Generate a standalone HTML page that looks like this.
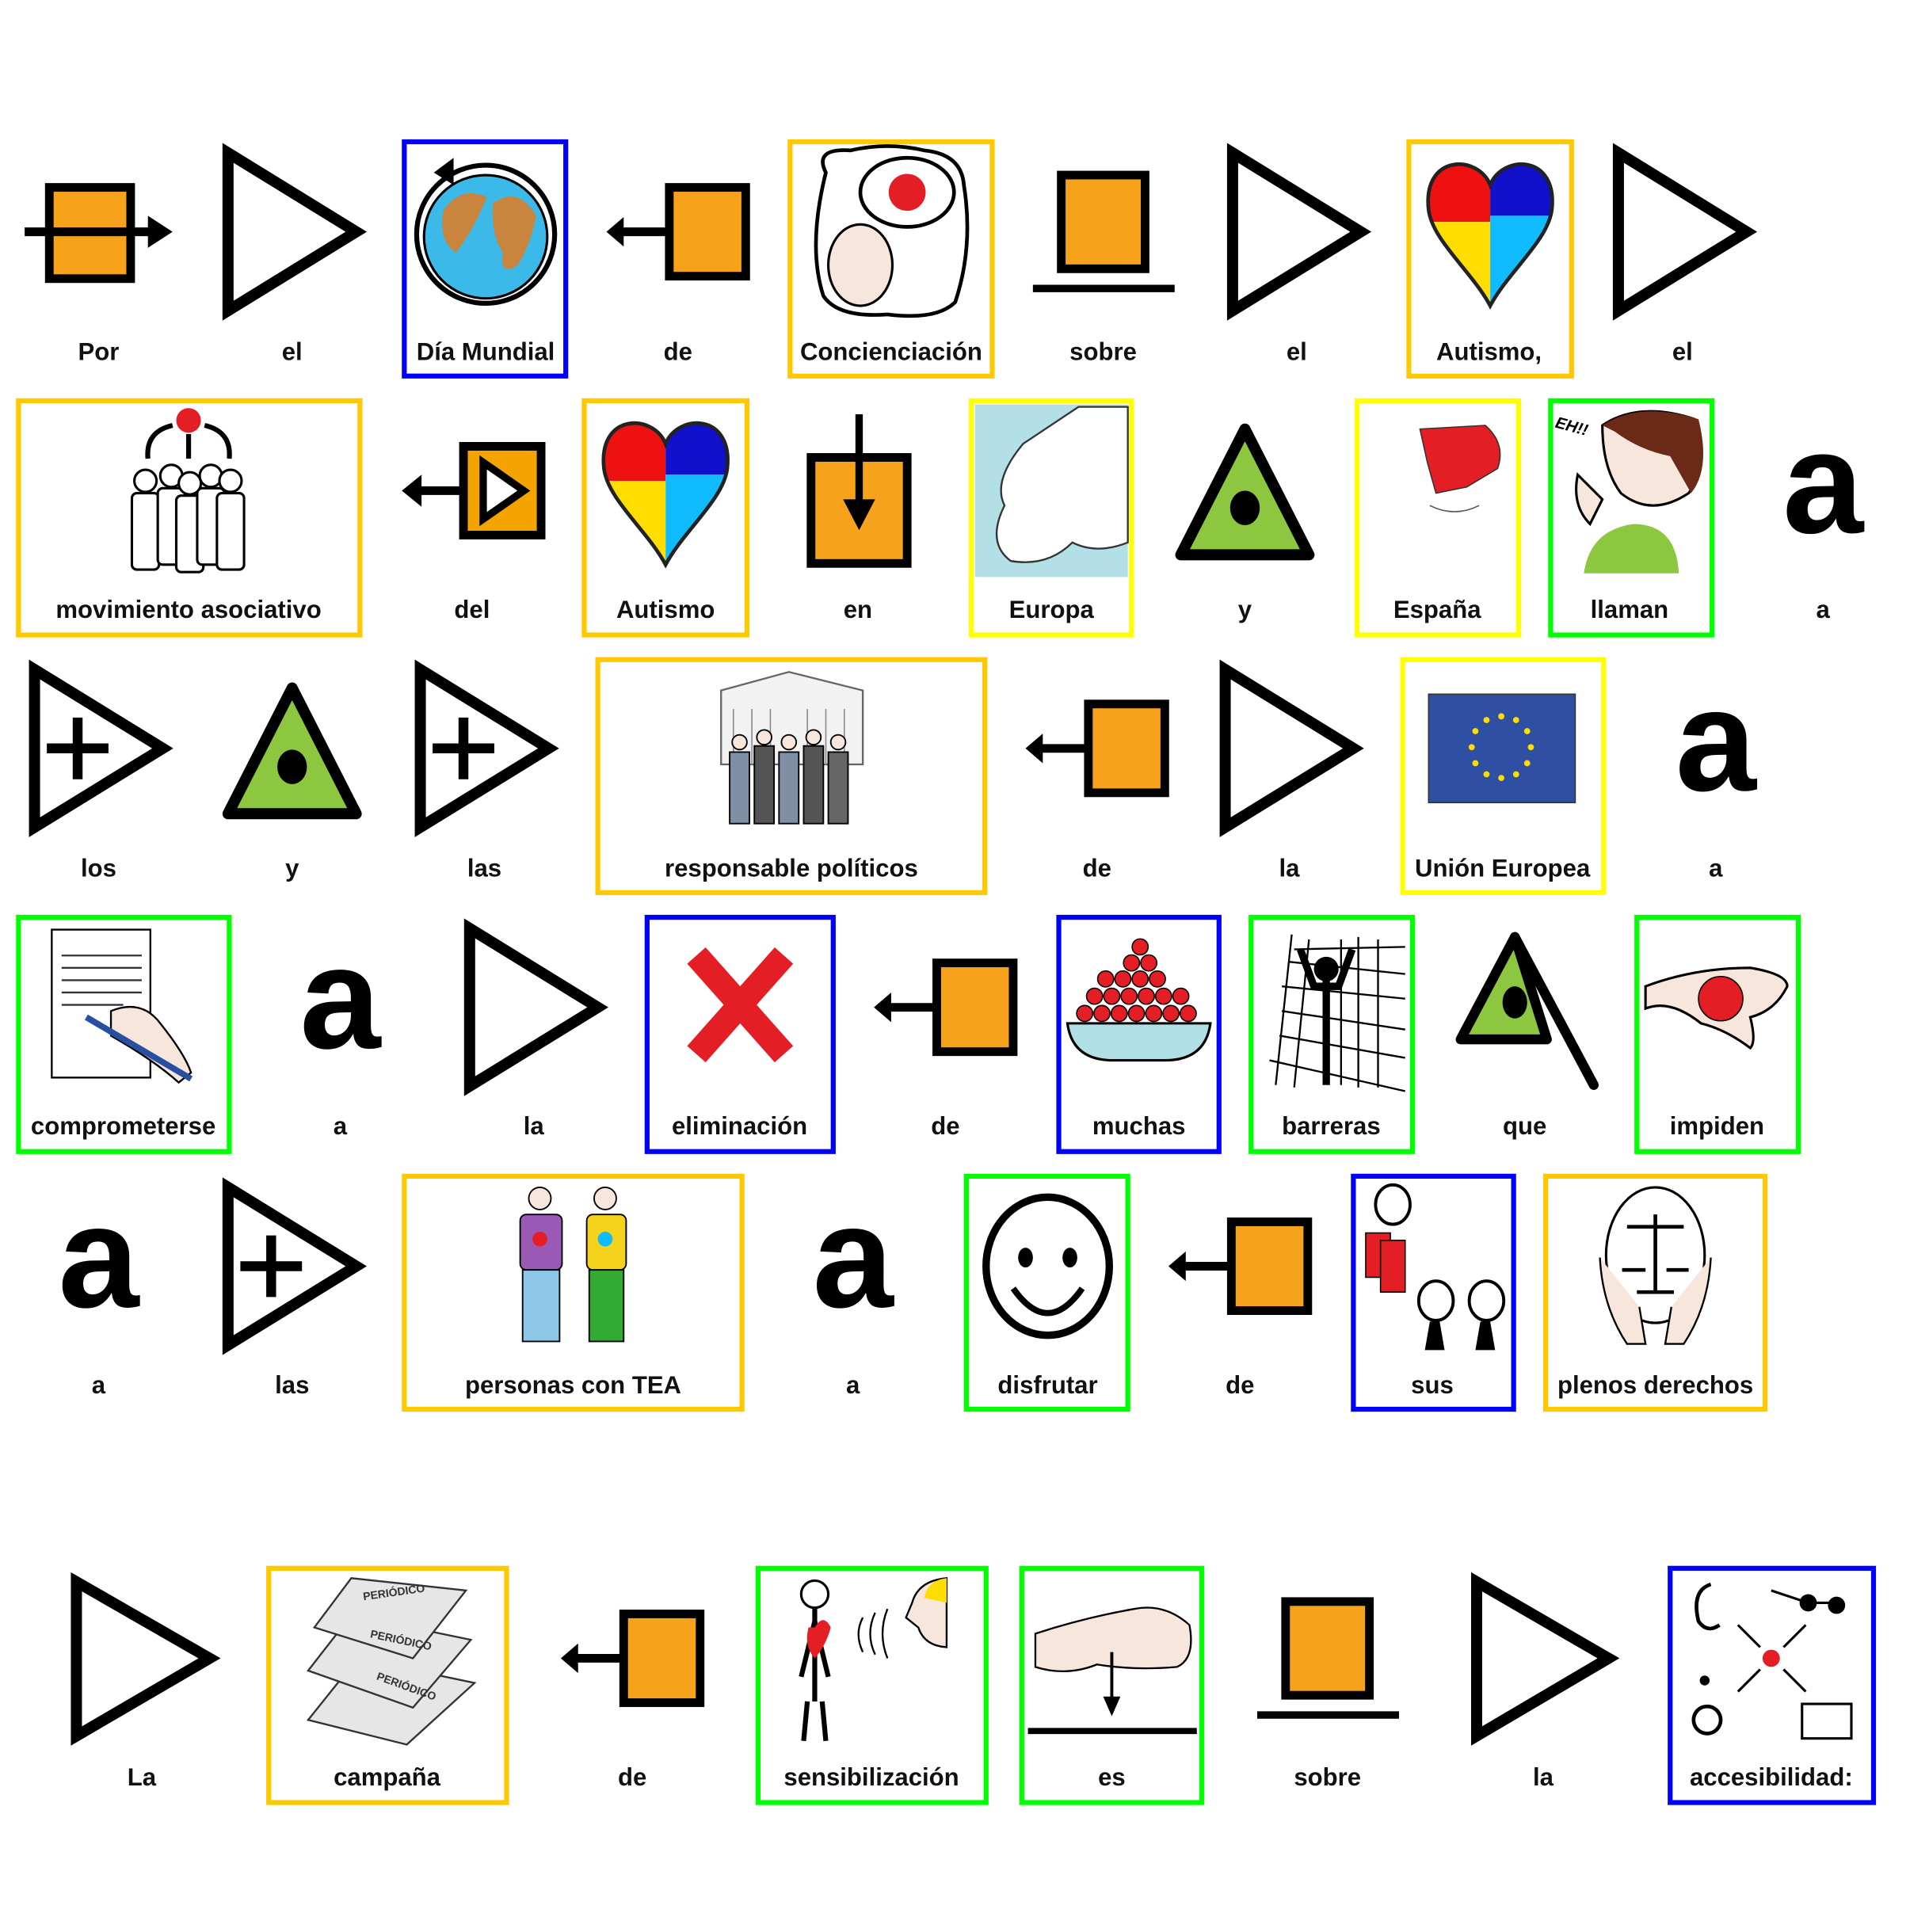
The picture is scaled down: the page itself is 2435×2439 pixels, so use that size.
<!DOCTYPE html>
<html><head><meta charset="utf-8"><style>
html,body{margin:0;padding:0;background:#fff;}
svg{display:block;}
text{font-family:"Liberation Sans","DejaVu Sans",sans-serif;font-weight:bold;}
.l{font-size:20px;text-anchor:middle;fill:#111;}
.a{font-size:118px;text-anchor:middle;fill:#000;}
</style></head><body>
<svg width="2435" height="2439" viewBox="0 0 1565 1567" preserveAspectRatio="none" xmlns="http://www.w3.org/2000/svg">
<defs>
<g id="tri"><polygon points="-52,-64 52,0 -52,64" fill="#fff" stroke="#000" stroke-width="9" stroke-linejoin="miter"/></g>
<g id="trip"><polygon points="-52,-64 52,0 -52,64" fill="#fff" stroke="#000" stroke-width="9"/><path d="M-42,0 H8 M-17,-25 V25" stroke="#000" stroke-width="8"/></g>
<g id="de"><rect x="-7" y="-36" width="62" height="72" fill="#f7a21b" stroke="#000" stroke-width="7"/><path d="M-48,0 H-8" stroke="#000" stroke-width="7"/><polygon points="-58,0 -44,-12 -44,12" fill="#000"/></g>
<g id="sobre"><rect x="-34" y="-46" width="68" height="76" fill="#f7a21b" stroke="#000" stroke-width="7"/><path d="M-57,46 H58" stroke="#000" stroke-width="6"/></g>
<g id="y"><polygon points="0,-52 -52,50 52,50" fill="#8dc63f" stroke="#000" stroke-width="9" stroke-linejoin="round"/><ellipse cx="0" cy="12" rx="12" ry="14" fill="#000"/></g>
<g id="heart"><clipPath id="hc"><path d="M0,-30 C10,-55 55,-55 50,-10 C47,15 15,40 0,68 C-15,40 -47,15 -50,-10 C-55,-55 -10,-55 0,-30Z"/></clipPath>
<g clip-path="url(#hc)"><rect x="-60" y="-60" width="60" height="60" fill="#e11"/><rect x="0" y="-60" width="60" height="55" fill="#11c"/><rect x="-60" y="0" width="60" height="70" fill="#fd0"/><rect x="0" y="-5" width="60" height="75" fill="#1bf"/></g>
<path d="M0,-30 C10,-55 55,-55 50,-10 C47,15 15,40 0,68 C-15,40 -47,15 -50,-10 C-55,-55 -10,-55 0,-30Z" fill="none" stroke="#222" stroke-width="3"/></g>
</defs>
<rect width="1565" height="1567" fill="#fff"/>
<g fill="none" stroke-width="4">
<rect x="328" y="115" width="131" height="190" stroke="#0000ff"/>
<rect x="641" y="115" width="164" height="190" stroke="#ffc800"/>
<rect x="1143" y="115" width="132" height="190" stroke="#ffc800"/>
<rect x="15" y="325" width="277" height="190" stroke="#ffc800"/>
<rect x="474" y="325" width="132" height="190" stroke="#ffc800"/>
<rect x="788" y="325" width="130" height="190" stroke="#ffff00"/>
<rect x="1101" y="325" width="131" height="190" stroke="#ffff00"/>
<rect x="1258" y="325" width="131" height="190" stroke="#00ff00"/>
<rect x="485" y="535" width="314" height="189" stroke="#ffc800"/>
<rect x="1138" y="535" width="163" height="189" stroke="#ffff00"/>
<rect x="15" y="744" width="171" height="190" stroke="#00ff00"/>
<rect x="525" y="744" width="151" height="190" stroke="#0000ff"/>
<rect x="859" y="744" width="130" height="190" stroke="#0000ff"/>
<rect x="1015" y="744" width="131" height="190" stroke="#00ff00"/>
<rect x="1328" y="744" width="131" height="190" stroke="#00ff00"/>
<rect x="328" y="954" width="274" height="189" stroke="#ffc800"/>
<rect x="784" y="954" width="131" height="189" stroke="#00ff00"/>
<rect x="1098" y="954" width="130" height="189" stroke="#0000ff"/>
<rect x="1254" y="954" width="178" height="189" stroke="#ffc800"/>
<rect x="218" y="1272" width="193" height="190" stroke="#ffc800"/>
<rect x="615" y="1272" width="185" height="190" stroke="#00ff00"/>
<rect x="829" y="1272" width="146" height="190" stroke="#00ff00"/>
<rect x="1355" y="1272" width="165" height="190" stroke="#0000ff"/>
</g>

<!-- Row 1 -->
<rect x="40" y="152" width="66" height="74" fill="#f7a21b" stroke="#000" stroke-width="7"/>
<path d="M20,188 H122" stroke="#000" stroke-width="7"/><polygon points="140,188 120,175 120,201" fill="#000"/>
<use href="#tri" x="237" y="188"/>
<circle cx="394" cy="190" r="56" fill="none" stroke="#000" stroke-width="4"/>
<circle cx="394" cy="192" r="50" fill="#3bb9e8" stroke="#000" stroke-width="2"/>
<path d="M360,170 Q375,150 395,160 Q385,185 370,205 Q355,195 360,170Z M400,165 Q420,150 435,175 Q430,200 420,215 Q405,225 408,205 Q398,190 400,165Z" fill="#c9843e"/>
<polygon points="352,140 368,128 368,150" fill="#000"/>
<use href="#de" x="550" y="188"/>
<path d="M670,140 Q660,120 690,122 Q720,115 750,122 Q780,125 782,150 Q790,200 775,245 Q760,260 720,255 Q680,258 668,240 Q655,200 670,140Z" fill="#fff" stroke="#000" stroke-width="3"/>
<ellipse cx="736" cy="156" rx="38" ry="28" fill="#fff" stroke="#000" stroke-width="3"/><circle cx="736" cy="156" r="15" fill="#e31e24"/>
<ellipse cx="698" cy="215" rx="26" ry="33" fill="#f7e6dc" stroke="#000" stroke-width="2"/>
<use href="#sobre" x="895" y="188"/>
<use href="#tri" x="1052" y="188"/>
<use href="#heart" x="1209" y="180"/>
<use href="#tri" x="1365" y="188"/>
<text class="l" x="80" y="292">Por</text><text class="l" x="237" y="292">el</text><text class="l" x="394" y="292">Día Mundial</text><text class="l" x="550" y="292">de</text><text class="l" x="723" y="292">Concienciación</text><text class="l" x="895" y="292">sobre</text><text class="l" x="1052" y="292">el</text><text class="l" x="1208" y="292">Autismo,</text><text class="l" x="1365" y="292">el</text>

<!-- Row 2 -->
<circle cx="153" cy="341" r="10" fill="#e31e24"/>
<path d="M140,345 Q118,350 120,372 M166,345 Q188,350 186,372 M153,352 V372" stroke="#000" stroke-width="4" fill="none"/>
<g fill="#fff" stroke="#000" stroke-width="2">
<rect x="107" y="400" width="22" height="62" rx="4"/><rect x="128" y="396" width="22" height="62" rx="4"/><rect x="143" y="402" width="22" height="62" rx="4"/><rect x="160" y="396" width="22" height="62" rx="4"/><rect x="176" y="400" width="22" height="62" rx="4"/>
<circle cx="118" cy="390" r="9"/><circle cx="139" cy="386" r="9"/><circle cx="154" cy="392" r="9"/><circle cx="171" cy="386" r="9"/><circle cx="187" cy="390" r="9"/></g>
<rect x="376" y="362" width="63" height="72" fill="#f4a300" stroke="#000" stroke-width="7"/>
<polygon points="392,375 425,398 392,421" fill="#fff" stroke="#000" stroke-width="6"/>
<path d="M340,398 H376" stroke="#000" stroke-width="7"/><polygon points="326,398 342,385 342,411" fill="#000"/>
<use href="#heart" x="540" y="390"/>
<rect x="658" y="371" width="78" height="86" fill="#f7a21b" stroke="#000" stroke-width="7"/>
<path d="M697,336 V410" stroke="#000" stroke-width="6"/><polygon points="697,430 684,405 710,405" fill="#000"/>
<rect x="791" y="328" width="124" height="140" fill="#b2e0e6"/>
<path d="M830,360 Q860,340 875,330 L915,330 L915,440 Q890,450 870,440 Q850,460 820,455 Q800,440 815,410 Q805,390 830,360Z" fill="#fff" stroke="#333" stroke-width="1.5"/>
<use href="#y" x="1010" y="400"/>
<path d="M1152,348 L1205,345 Q1222,360 1215,380 L1190,395 L1165,400 L1158,375Z" fill="#e31e24" stroke="#333" stroke-width="1"/>
<path d="M1160,410 Q1180,420 1200,410" stroke="#555" fill="none"/>
<path d="M1300,345 Q1330,325 1375,340 Q1385,380 1370,400 Q1340,420 1315,400 Q1300,380 1300,345Z" fill="#f7e6dc" stroke="#000" stroke-width="2"/>
<path d="M1300,345 Q1330,325 1378,340 Q1388,380 1372,400 L1355,370 Q1330,365 1310,350Z" fill="#6b2a17"/>
<path d="M1285,465 Q1290,430 1325,425 Q1360,425 1362,465Z" fill="#8dc63f"/>
<path d="M1280,385 Q1275,410 1290,425 L1300,405Z" fill="#f7e6dc" stroke="#000" stroke-width="2"/>
<text x="1262" y="350" font-size="13" font-style="italic" fill="#000" transform="rotate(15 1275 345)">EH!!</text>
<text class="a" x="1479" y="432">a</text>
<text class="l" x="153" y="501">movimiento asociativo</text><text class="l" x="383" y="501">del</text><text class="l" x="540" y="501">Autismo</text><text class="l" x="696" y="501">en</text><text class="l" x="853" y="501">Europa</text><text class="l" x="1010" y="501">y</text><text class="l" x="1166" y="501">España</text><text class="l" x="1322" y="501">llaman</text><text class="l" x="1479" y="501">a</text>

<!-- Row 3 -->
<use href="#trip" x="80" y="607"/>
<use href="#y" x="237" y="610"/>
<use href="#trip" x="393" y="607"/>
<path d="M585,560 L640,545 L700,560 V620 H585Z" fill="#f2f2f2" stroke="#666" stroke-width="1.5"/>
<path d="M595,575 V620 M610,575 V620 M625,575 V620 M655,575 V620 M670,575 V620 M685,575 V620" stroke="#888"/>
<g stroke="#000" stroke-width="1.2"><rect x="592" y="610" width="16" height="58" fill="#7e8fa6"/><rect x="612" y="605" width="16" height="63" fill="#555"/><rect x="632" y="610" width="16" height="58" fill="#7e8fa6"/><rect x="652" y="605" width="16" height="63" fill="#555"/><rect x="672" y="610" width="16" height="58" fill="#666"/>
<circle cx="600" cy="602" r="6" fill="#f7e6dc"/><circle cx="620" cy="598" r="6" fill="#f7e6dc"/><circle cx="640" cy="602" r="6" fill="#f7e6dc"/><circle cx="660" cy="598" r="6" fill="#f7e6dc"/><circle cx="680" cy="602" r="6" fill="#f7e6dc"/></g>
<use href="#de" x="890" y="607"/>
<use href="#tri" x="1046" y="607"/>
<rect x="1159" y="563" width="119" height="88" fill="#2f4fa2" stroke="#333" stroke-width="1"/>
<g fill="#ffdd00"><circle cx="1218" cy="581" r="2.5"/><circle cx="1230" cy="584" r="2.5"/><circle cx="1239" cy="593" r="2.5"/><circle cx="1242" cy="606" r="2.5"/><circle cx="1239" cy="619" r="2.5"/><circle cx="1230" cy="628" r="2.5"/><circle cx="1218" cy="631" r="2.5"/><circle cx="1206" cy="628" r="2.5"/><circle cx="1197" cy="619" r="2.5"/><circle cx="1194" cy="606" r="2.5"/><circle cx="1197" cy="593" r="2.5"/><circle cx="1206" cy="584" r="2.5"/></g>
<text class="a" x="1392" y="641">a</text>
<text class="l" x="80" y="711">los</text><text class="l" x="237" y="711">y</text><text class="l" x="393" y="711">las</text><text class="l" x="642" y="711">responsable políticos</text><text class="l" x="890" y="711">de</text><text class="l" x="1046" y="711">la</text><text class="l" x="1219" y="711">Unión Europea</text><text class="l" x="1392" y="711">a</text>

<!-- Row 4 -->
<rect x="42" y="754" width="80" height="120" fill="#fff" stroke="#000" stroke-width="1.5"/>
<path d="M50,775 H115 M50,785 H115 M50,795 H115 M50,805 H115 M50,815 H100" stroke="#333" stroke-width="1.5"/>
<path d="M90,820 Q115,810 130,830 Q150,855 155,870 L145,878 Q125,860 90,840Z" fill="#f7e6dc" stroke="#000" stroke-width="1.5"/>
<path d="M70,825 L155,875" stroke="#2850a0" stroke-width="5"/>
<text class="a" x="276" y="850">a</text>
<use href="#tri" x="433" y="817"/>
<path d="M565,775 L636,855 M636,775 L565,855" stroke="#e31e24" stroke-width="20"/>
<use href="#de" x="767" y="817"/>
<path d="M866,830 H982 Q978,860 945,860 H903 Q870,860 866,830Z" fill="#b0e0e6" stroke="#000" stroke-width="2"/>
<g fill="#e31e24" stroke="#000" stroke-width="1"><circle cx="880" cy="822" r="6.5"/><circle cx="894" cy="822" r="6.5"/><circle cx="908" cy="822" r="6.5"/><circle cx="922" cy="822" r="6.5"/><circle cx="936" cy="822" r="6.5"/><circle cx="950" cy="822" r="6.5"/><circle cx="964" cy="822" r="6.5"/><circle cx="888" cy="808" r="6.5"/><circle cx="902" cy="808" r="6.5"/><circle cx="916" cy="808" r="6.5"/><circle cx="930" cy="808" r="6.5"/><circle cx="944" cy="808" r="6.5"/><circle cx="958" cy="808" r="6.5"/><circle cx="897" cy="794" r="6.5"/><circle cx="911" cy="794" r="6.5"/><circle cx="925" cy="794" r="6.5"/><circle cx="939" cy="794" r="6.5"/><circle cx="918" cy="781" r="6.5"/><circle cx="932" cy="781" r="6.5"/><circle cx="925" cy="768" r="6.5"/></g>
<g stroke="#000" stroke-width="1.5" fill="none"><path d="M1048,758 L1035,880 M1062,762 L1050,882 M1088,762 V880 M1102,760 V882 M1118,762 V882 M1030,860 L1140,885 M1040,800 L1140,810 M1045,780 L1140,790 M1040,820 L1140,835 M1038,840 L1140,858 M1050,770 L1140,768"/></g>
<circle cx="1076" cy="786" r="10" fill="#000"/><path d="M1076,790 V880 M1055,770 L1066,800 H1086 L1097,770" stroke="#000" stroke-width="6" fill="none"/>
<polygon points="1229,760 1185,843 1255,843" fill="#8dc63f" stroke="#000" stroke-width="8" stroke-linejoin="round"/><path d="M1229,760 L1293,880" stroke="#000" stroke-width="8" stroke-linecap="round"/><ellipse cx="1229" cy="813" rx="10" ry="13" fill="#000"/>
<path d="M1335,800 Q1375,785 1420,785 Q1450,790 1450,800 Q1440,820 1420,825 Q1425,845 1420,850 Q1400,835 1380,830 Q1355,810 1335,818Z" fill="#f7e6dc" stroke="#000" stroke-width="2"/>
<circle cx="1396" cy="810" r="18" fill="#e31e24" stroke="#000" stroke-width="1"/>
<text class="l" x="100" y="920">comprometerse</text><text class="l" x="276" y="920">a</text><text class="l" x="433" y="920">la</text><text class="l" x="600" y="920">eliminación</text><text class="l" x="767" y="920">de</text><text class="l" x="924" y="920">muchas</text><text class="l" x="1080" y="920">barreras</text><text class="l" x="1237" y="920">que</text><text class="l" x="1393" y="920">impiden</text>

<!-- Row 5 -->
<text class="a" x="80" y="1060">a</text>
<use href="#trip" x="237" y="1027"/>
<g stroke="#000" stroke-width="1.2">
<circle cx="438" cy="972" r="9" fill="#f7e6dc"/><rect x="422" y="985" width="34" height="45" rx="5" fill="#9b59b6"/><rect x="424" y="1030" width="30" height="58" fill="#8ec8e8"/>
<circle cx="491" cy="972" r="9" fill="#f7e6dc"/><rect x="476" y="985" width="32" height="45" rx="5" fill="#f5d21b"/><rect x="478" y="1030" width="28" height="58" fill="#33aa33"/></g>
<circle cx="438" cy="1005" r="6" fill="#e31e24"/><circle cx="491" cy="1005" r="6" fill="#1bf"/>
<text class="a" x="692" y="1060">a</text>
<ellipse cx="850" cy="1027" rx="50" ry="56" fill="#fff" stroke="#000" stroke-width="6"/>
<ellipse cx="832" cy="1020" rx="6" ry="8" fill="#000"/><ellipse cx="868" cy="1020" rx="6" ry="8" fill="#000"/>
<path d="M822,1045 Q850,1085 878,1045" stroke="#000" stroke-width="5" fill="none"/>
<use href="#de" x="1006" y="1027"/>
<g stroke="#000" stroke-width="2.5" fill="#fff"><ellipse cx="1130" cy="977" rx="14" ry="16"/><ellipse cx="1165" cy="1055" rx="14" ry="16"/><ellipse cx="1206" cy="1055" rx="14" ry="16"/></g>
<rect x="1108" y="1000" width="20" height="36" fill="#e31e24" stroke="#000"/><rect x="1120" y="1006" width="20" height="42" fill="#e31e24" stroke="#000"/>
<path d="M1160,1072 L1156,1095 H1172 L1168,1072Z M1201,1072 L1197,1095 H1213 L1209,1072Z" fill="#000"/>
<ellipse cx="1343" cy="1018" rx="40" ry="55" fill="#fff" stroke="#000" stroke-width="2"/>
<path d="M1343,985 V1048 M1320,995 H1366 M1328,1048 H1358 M1316,1030 H1335 M1352,1030 H1370" stroke="#000" stroke-width="3"/>
<path d="M1298,1020 Q1300,1060 1320,1090 H1335 L1330,1060 M1388,1020 Q1386,1060 1366,1090 H1351 L1356,1060" fill="#f7e6dc" stroke="#000" stroke-width="1.5"/>
<text class="l" x="80" y="1130">a</text><text class="l" x="237" y="1130">las</text><text class="l" x="465" y="1130">personas con TEA</text><text class="l" x="692" y="1130">a</text><text class="l" x="850" y="1130">disfrutar</text><text class="l" x="1006" y="1130">de</text><text class="l" x="1162" y="1130">sus</text><text class="l" x="1343" y="1130">plenos derechos</text>

<!-- Row 6 -->
<polygon points="62,1283 170,1345 62,1408" fill="#fff" stroke="#000" stroke-width="9"/>
<g fill="#e6e6e6" stroke="#333" stroke-width="1.5">
<path d="M250,1395 L290,1345 L385,1365 L330,1415Z"/><path d="M250,1355 L285,1310 L382,1330 L335,1385Z"/><path d="M255,1320 L285,1280 L378,1290 L335,1345Z"/></g>
<text x="295" y="1298" font-size="9" fill="#333" transform="rotate(-8 295 1298)">PERIÓDICO</text>
<text x="300" y="1328" font-size="9" fill="#333" transform="rotate(12 300 1328)">PERIÓDICO</text>
<text x="305" y="1362" font-size="9" fill="#333" transform="rotate(20 305 1362)">PERIÓDICO</text>
<use href="#de" x="513" y="1345"/>
<circle cx="661" cy="1293" r="11" fill="#fff" stroke="#000" stroke-width="2"/>
<path d="M661,1304 V1380 M655,1380 L652,1412 M667,1380 L670,1412 M661,1315 L650,1360 M661,1315 L672,1360" stroke="#000" stroke-width="4" fill="none"/>
<path d="M661,1320 Q668,1308 674,1320 Q670,1335 661,1345 Q652,1335 656,1320Z" fill="#e31e24"/>
<path d="M700,1312 Q693,1325 700,1340 M710,1308 Q702,1325 710,1342 M720,1305 Q712,1325 720,1345" stroke="#000" fill="none" stroke-width="1.5"/>
<path d="M768,1280 Q745,1282 740,1300 L735,1312 L745,1320 Q750,1335 768,1336Z" fill="#f7e6dc" stroke="#000" stroke-width="1.5"/>
<path d="M768,1280 Q752,1282 750,1296 L768,1300Z" fill="#ffdd00"/>
<path d="M840,1325 Q880,1312 920,1305 Q945,1300 965,1318 Q970,1345 955,1352 Q920,1355 890,1350 Q865,1360 840,1352Z" fill="#f7e6dc" stroke="#000" stroke-width="1.5"/>
<path d="M902,1340 V1380" stroke="#000" stroke-width="2.5"/><polygon points="902,1392 895,1376 909,1376" fill="#000"/>
<path d="M834,1404 H971" stroke="#000" stroke-width="5"/>
<use href="#sobre" x="1077" y="1345"/>
<polygon points="1198,1283 1305,1345 1198,1408" fill="#fff" stroke="#000" stroke-width="9"/>
<circle cx="1437" cy="1345" r="7" fill="#e31e24"/>
<path d="M1410,1318 L1428,1336 M1465,1318 L1447,1336 M1410,1372 L1428,1354 M1465,1372 L1447,1354" stroke="#000" stroke-width="2"/>
<path d="M1388,1285 Q1372,1290 1378,1315 Q1385,1325 1395,1318" fill="none" stroke="#000" stroke-width="3"/>
<circle cx="1467" cy="1300" r="7" fill="#000"/><circle cx="1490" cy="1302" r="7" fill="#000"/><path d="M1437,1290 L1467,1300 H1490" stroke="#000" stroke-width="2" fill="none"/>
<circle cx="1385" cy="1395" r="11" fill="none" stroke="#000" stroke-width="3"/><circle cx="1383" cy="1363" r="4" fill="#000"/>
<rect x="1462" y="1382" width="40" height="28" fill="#fff" stroke="#000" stroke-width="2"/>
<text class="l" x="115" y="1448">La</text><text class="l" x="314" y="1448">campaña</text><text class="l" x="513" y="1448">de</text><text class="l" x="707" y="1448">sensibilización</text><text class="l" x="902" y="1448">es</text><text class="l" x="1077" y="1448">sobre</text><text class="l" x="1252" y="1448">la</text><text class="l" x="1437" y="1448">accesibilidad:</text>
</svg>
</body></html>
